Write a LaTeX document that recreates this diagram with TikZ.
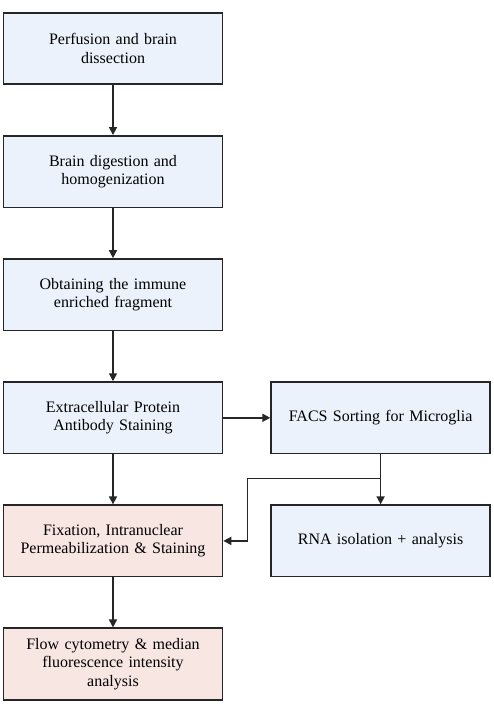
\documentclass[tikz,border=0pt]{standalone}
\usepackage{fontspec}
\setmainfont{Liberation Serif}
\usetikzlibrary{arrows.meta,positioning,calc}
\definecolor{stepblue}{HTML}{ECF2FB}
\definecolor{steppink}{HTML}{F8E6E2}
\definecolor{linegray}{HTML}{262626}
\tikzset{
  stepbox/.style={draw=linegray,line width=1.6pt,fill=stepblue,minimum width=219pt,
    minimum height=71.5pt,align=center,text width=210pt,font=\fontsize{16}{18.5}\selectfont},
  pinkbox/.style={stepbox,fill=steppink},
  flow/.style={draw=linegray,line width=1.6pt,-{Triangle[length=8pt,width=8pt]}}
}
\begin{document}
\begin{tikzpicture}[node distance=50pt and 47pt]
          \useasboundingbox (0pt,0pt) rectangle (494pt,-711pt);
          \node(perf)[stepbox] at (113pt,-48.5pt){Perfusion and brain\\dissection};
          \node(dig)[stepbox,below=of perf]{Brain digestion and\\homogenization};
          \node(frag)[stepbox,below=of dig]{Obtaining the immune\\enriched fragment};
          \node(stain)[stepbox,below=of frag]{Extracellular Protein\\Antibody Staining};
          \node(facs)[stepbox,right=of stain]{FACS Sorting for Microglia};
          \node(fix)[pinkbox,below=of stain]{Fixation, Intranuclear\\Permeabilization \& Staining};
          \node(rna)[stepbox,below=of facs]{RNA isolation + analysis};
          \node(flow)[pinkbox,below=of fix]{Flow cytometry \& median\\fluorescence intensity\\analysis};
          \coordinate(split) at ($(facs.south)+(0,-24pt)$);
          \coordinate(turn) at ($(fix.east)+(24pt,0)$);
          \draw[flow] (perf) -- (dig);
          \draw[flow] (dig) -- (frag);
          \draw[flow] (frag) -- (stain);
          \draw[flow] (stain) -- (facs);
          \draw[flow] (stain) -- (fix);
          \draw[flow] (facs) -- (rna);
          \draw[flow] (fix) -- (flow);
          \draw[flow] (split) -| (turn) -- (fix.east);
        \end{tikzpicture}
\end{document}
